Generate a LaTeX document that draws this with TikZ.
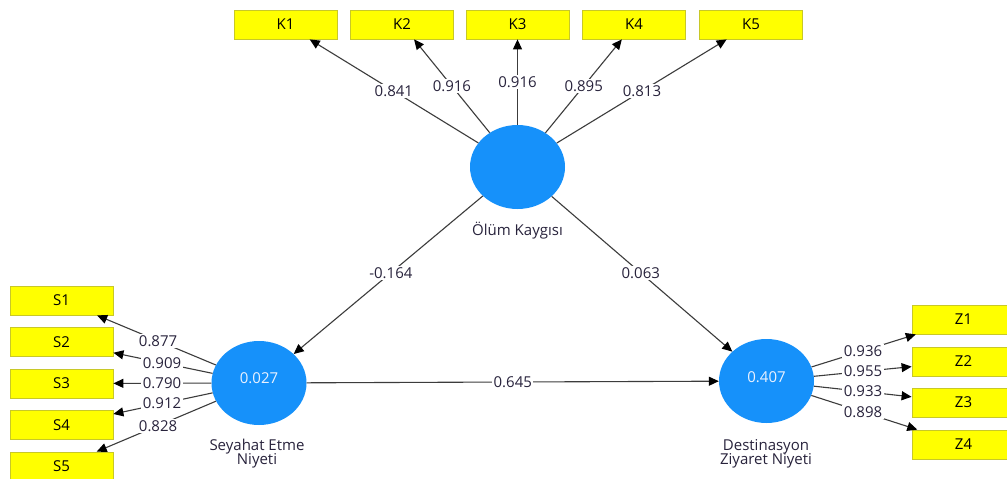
\documentclass[tikz,border=0pt]{standalone}
\usepackage{fontspec}
\setmainfont{Open Sans}
\usetikzlibrary{shapes.geometric,arrows.meta}
\definecolor{lvfill}{RGB}{22,145,250}
\definecolor{indfill}{RGB}{255,255,0}
\definecolor{inddraw}{RGB}{200,200,40}
\definecolor{lncol}{RGB}{60,60,60}
\definecolor{txcol}{RGB}{40,35,60}
\definecolor{lvtext}{RGB}{235,242,255}
\begin{document}
\begin{tikzpicture}[x=1pt,y=-1pt,
  indbox/.style={draw=inddraw, fill=indfill, line width=0.8pt, minimum width=103pt, minimum height=29pt, inner sep=0pt, font=\fontsize{15}{17}\selectfont, text=black},
  latent/.style={ellipse, fill=lvfill, minimum width=95pt, minimum height=84pt, inner sep=0pt},
  lvtxt/.style={text=lvtext, font=\fontsize{15}{17}\selectfont},
  lvname/.style={text=txcol, font=\fontsize{15}{17}\selectfont, align=center},
  conn/.style={draw=lncol, line width=1.1pt, -{Triangle[length=10pt,width=9pt,color=black]}},
  lbl/.style={fill=white, inner sep=1.5pt, text=txcol, font=\fontsize{15}{17}\selectfont}
]
\useasboundingbox (0,0) rectangle (1007,479);
\fill[white] (0,0) rectangle (1007,479);

% latent variables
\node[latent] (OK) at (517.5,167) {};
\node[lvname] (OKl) at (517.5,231) {Ölüm Kaygısı};
\node[latent] (SE) at (259,383) {};
\node[lvtxt] (SEv) at (259,378) {0.027};
\node[lvname] (SEl) at (257,454) {Seyahat Etme\\[-3pt]Niyeti};
\node[latent] (DZ) at (766.5,381) {};
\node[lvtxt] (DZv) at (766.5,377) {0.407};
\node[lvname] (DZl) at (766,454) {Destinasyon\\[-3pt]Ziyaret Niyeti};

% indicators K
\node[indbox] (K1) at (285.5,24.5) {K1};
\node[indbox] (K2) at (402,24.5) {K2};
\node[indbox] (K3) at (517.5,24.5) {K3};
\node[indbox] (K4) at (634,24.5) {K4};
\node[indbox] (K5) at (751,24.5) {K5};
% indicators S
\node[indbox] (S1) at (61.5,300.5) {S1};
\node[indbox] (S2) at (61.5,342) {S2};
\node[indbox] (S3) at (61.5,383.5) {S3};
\node[indbox] (S4) at (61.5,425) {S4};
\node[indbox] (S5) at (61.5,466.5) {S5};
% indicators Z
\node[indbox] (Z1) at (963.5,319.5) {Z1};
\node[indbox] (Z2) at (963.5,361.5) {Z2};
\node[indbox] (Z3) at (963.5,402.5) {Z3};
\node[indbox] (Z4) at (963.5,444.5) {Z4};

% connectors
\foreach \k in {K1,K2,K3,K4,K5} {\draw[conn] (OK) -- (\k);}
\foreach \s in {S1,S2,S3,S4,S5} {\draw[conn] (SE) -- (\s);}
\foreach \z in {Z1,Z2,Z3,Z4} {\draw[conn] (DZ) -- (\z);}
\draw[conn] (OK) -- (SE);
\draw[conn] (OK) -- (DZ);
\draw[conn] (SE) -- (DZ);

% labels
\path (OK.center) -- (K1.center) node[lbl,pos=0.533] {0.841};
\path (OK.center) -- (K2.center) node[lbl,pos=0.568] {0.916};
\path (OK.center) -- (K3.center) node[lbl,pos=0.596] {0.916};
\path (OK.center) -- (K4.center) node[lbl,pos=0.568] {0.895};
\path (OK.center) -- (K5.center) node[lbl,pos=0.533] {0.813};

\path (SE.center) -- (S1.center) node[lbl,pos=0.511] {0.877};
\path (SE.center) -- (S2.center) node[lbl,pos=0.491] {0.909};
\path (SE.center) -- (S3.center) node[lbl,pos=0.491] {0.790};
\path (SE.center) -- (S4.center) node[lbl,pos=0.491] {0.912};
\path (SE.center) -- (S5.center) node[lbl,pos=0.511] {0.828};

\path (DZ.center) -- (Z1.center) node[lbl,pos=0.49] {0.936};
\path (DZ.center) -- (Z2.center) node[lbl,pos=0.49] {0.955};
\path (DZ.center) -- (Z3.center) node[lbl,pos=0.49] {0.933};
\path (DZ.center) -- (Z4.center) node[lbl,pos=0.49] {0.898};

\path (OK.center) -- (SE.center) node[lbl,pos=0.49] {-0.164};
\path (OK.center) -- (DZ.center) node[lbl,pos=0.495] {0.063};
\path (SE.center) -- (DZ.center) node[lbl,pos=0.5] {0.645};
\end{tikzpicture}
\end{document}
